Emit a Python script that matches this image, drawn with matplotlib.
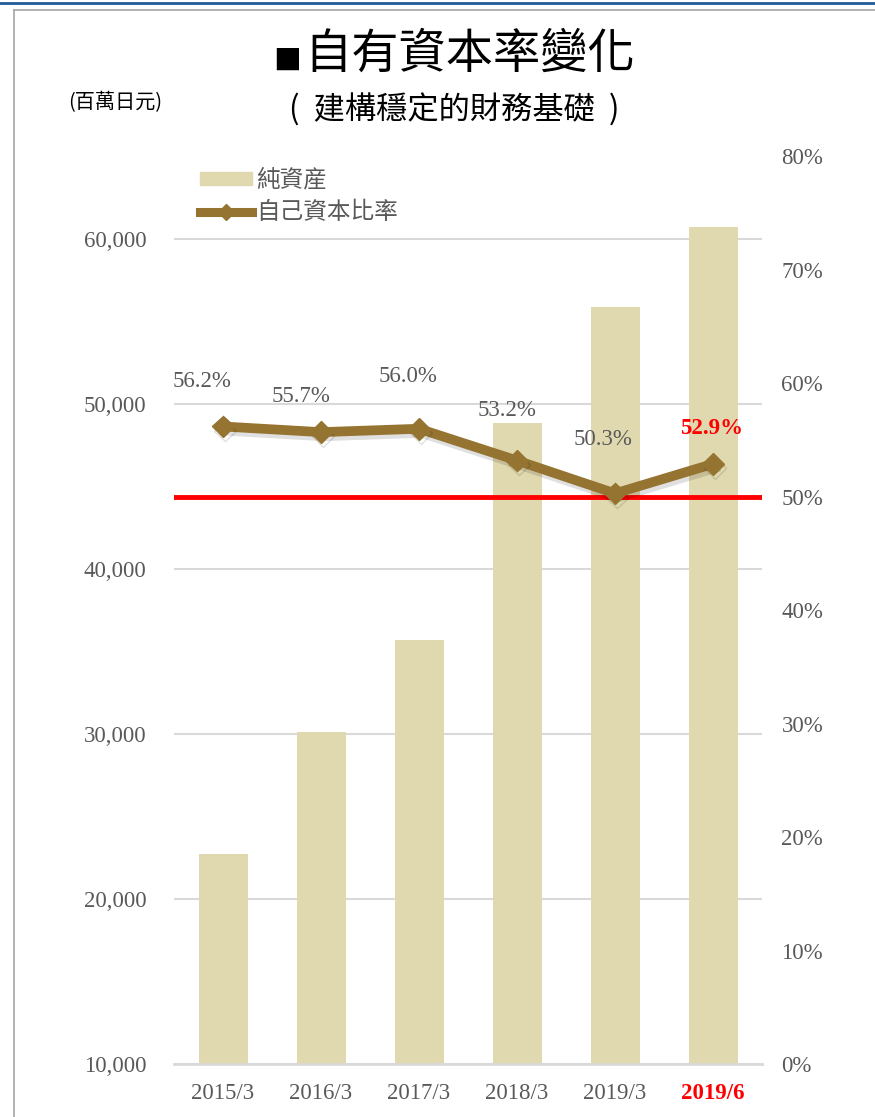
import matplotlib.pyplot as plt
import matplotlib.patheffects as pe
from matplotlib.lines import Line2D
from matplotlib.patches import Patch

periods = ['2015/3', '2016/3', '2017/3', '2018/3', '2019/3', '2019/6']
net_assets = [22700, 30100, 35700, 48850, 55900, 60700]
equity_ratio = [56.2, 55.7, 56.0, 53.2, 50.3, 52.9]
left_ticks = [10000, 20000, 30000, 40000, 50000, 60000]
right_ticks = [0, 10, 20, 30, 40, 50, 60, 70, 80]
target_ratio = 50

cjk = ['Noto Sans CJK TC', 'DejaVu Sans']
serif = ['Liberation Serif', 'DejaVu Serif']
gray = '#595959'
bar_color = '#E0D8AE'
line_color = '#957330'
fs = 16.5

fig = plt.figure(figsize=(8.75, 11.17), dpi=100)
ax = fig.add_axes([174/875, 1 - 1064/1117, 588/875, (1064 - 156.5)/1117])
x = list(range(len(periods)))

ax.bar(x, net_assets, width=0.5, color=bar_color, zorder=2)
ax.set_xlim(-0.5, len(periods) - 0.5)
ax.set_ylim(10000, 65000)
ax.set_yticks(left_ticks)
ax.set_yticklabels([f'{v:,}' for v in left_ticks], family=serif, fontsize=fs, color=gray)
ax.yaxis.grid(True, color='#D9D9D9', lw=1.5, zorder=0)
ax.tick_params(length=0)
ax.tick_params(axis='y', pad=20)
ax.tick_params(axis='x', pad=14)
for s in ['top', 'right', 'left']:
    ax.spines[s].set_visible(False)
ax.spines['bottom'].set_color('#D9D9D9')
ax.spines['bottom'].set_linewidth(2)
ax.set_xticks(x)
ax.set_xticklabels(periods, family=serif, fontsize=fs, color=gray)
last = ax.get_xticklabels()[-1]
last.set_color('red')
last.set_fontweight('bold')

ax2 = ax.twinx()
ax2.set_ylim(0, 80)
ax2.set_yticks(right_ticks)
ax2.set_yticklabels([f'{v}%' for v in right_ticks], family=serif, fontsize=fs, color=gray)
ax2.tick_params(length=0, pad=14)
for s in ax2.spines.values():
    s.set_visible(False)

ax2.axhline(target_ratio, color='#FF0000', lw=3.5, zorder=3)
ax2.plot(x, equity_ratio, color=line_color, lw=7, marker='D', ms=11,
         zorder=4, solid_joinstyle='miter',
         path_effects=[pe.SimpleLineShadow(offset=(1.5, -3), shadow_color='black', alpha=0.12),
                       pe.Normal()])

offsets = [(-21, 45), (-20, 36), (-11, 52), (-10, 50), (-12, 54), (-1, 35)]
for i, (v, off) in enumerate(zip(equity_ratio, offsets)):
    is_last = i == len(equity_ratio) - 1
    ax2.annotate(f'{v:.1f}%', (i, v), xytext=(off[0] * 0.72, off[1] * 0.72),
                 textcoords='offset points', ha='center', va='center',
                 family=serif, fontsize=fs,
                 color='red' if is_last else gray,
                 fontweight='bold' if is_last else 'normal', zorder=5)

handles = [Patch(color=bar_color),
           Line2D([0], [0], color=line_color, lw=6.5, marker='D', ms=8)]
leg = fig.legend(handles, ['純資産', '自己資本比率'], loc='upper left',
                 bbox_to_anchor=(188/875, 1 - 157/1117), frameon=False, borderpad=0,
                 prop={'family': cjk, 'size': 17}, handlelength=2.2, handleheight=0.5,
                 handletextpad=0.2, labelspacing=0.4)
for t in leg.get_texts():
    t.set_color(gray)

fig.text(287/875, 1 - 62/1117, '■', ha='center', va='center',
         family=cjk, fontsize=20, color='black')
fig.text(470/875, 1 - 54/1117, '自有資本率變化', ha='center', va='center',
         family=cjk, fontsize=34, fontweight='light', color='black')
fig.text(454/875, 1 - 110/1117, '(  建構穩定的財務基礎  )', ha='center', va='center',
         family=cjk, fontsize=22.5, fontweight='light', color='black')
fig.text(115/875, 1 - 103/1117, '(百萬日元)', ha='center', va='center',
         family=cjk, fontsize=14.5, color='black')

# frame lines
fig.add_artist(Line2D([0, 1], [1 - 3/1117, 1 - 3/1117], color='#1F5C99', lw=2))
fig.add_artist(Line2D([14/875, 1], [1 - 10/1117, 1 - 10/1117], color='#A6A6A6', lw=1.2))
fig.add_artist(Line2D([14/875, 14/875], [0, 1 - 10/1117], color='#A6A6A6', lw=1.2))

fig.savefig('out.png', dpi=100)
